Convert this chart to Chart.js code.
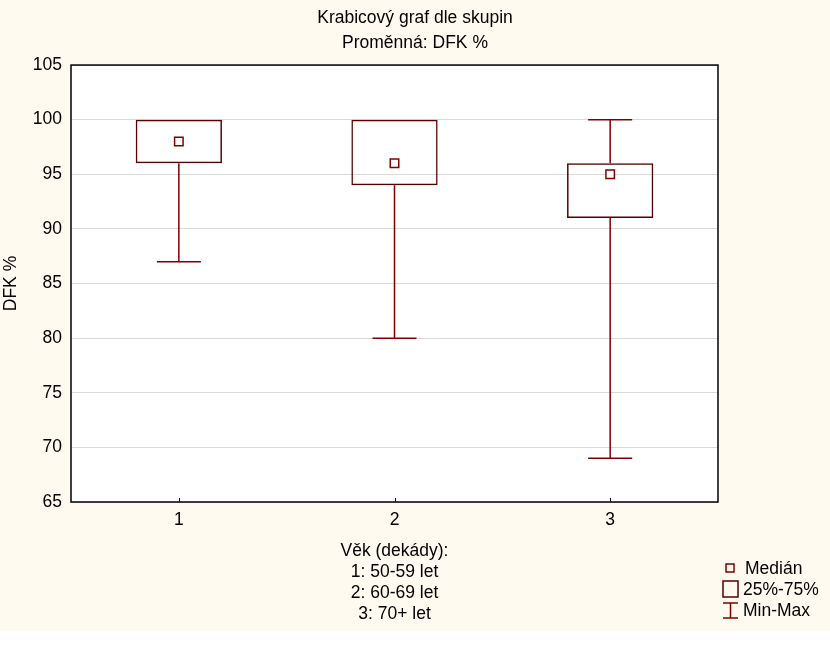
<!DOCTYPE html>
<html>
<head>
<meta charset="utf-8">
<script src="https://cdn.jsdelivr.net/npm/chart.js@4"></script>
<style>
  body { margin: 0; background: #ffffff; }
  #wrap { width: 830px; height: 631px; background: #fffaf0; }
</style>
</head>
<body>
<div id="wrap"><canvas id="boxChart" width="830" height="631"></canvas></div>
<script>
const groups = ['1', '2', '3'];
const q1 = [96, 94, 91];
const q3 = [100, 100, 96];
const medians = [98, 96, 95];
const mins = [87, 80, 69];
const maxs = [100, 100, 100];

const chart_title = ['Krabicový graf dle skupin', 'Proměnná: DFK %'];
const x_title = ['Věk (dekády):', '1: 50-59 let', '2: 60-69 let', '3: 70+ let'];
const y_title = 'DFK %';
const legend_labels = ['Medián', '25%-75%', 'Min-Max'];

const BOX_COLOR = '#560000';
const WHISKER_COLOR = '#800000';
const FONT = 'Liberation Sans, Arial, sans-serif';
const FS = 17.5;

Chart.defaults.font.family = FONT;
Chart.defaults.color = '#000000';

// white plot area on the cream page
const plotBackground = {
  id: 'plotBackground',
  beforeDraw(chart) {
    const { ctx, chartArea: a } = chart;
    ctx.save();
    ctx.fillStyle = '#ffffff';
    ctx.fillRect(a.left, a.top, a.right - a.left, a.bottom - a.top);
    ctx.restore();
  }
};

// whiskers + caps, drawn under the boxes
const whiskers = {
  id: 'whiskers',
  beforeDatasetsDraw(chart) {
    const { ctx } = chart;
    const xs = chart.scales.x, ys = chart.scales.y;
    const capHalf = 22;
    ctx.save();
    ctx.strokeStyle = WHISKER_COLOR;
    ctx.lineWidth = 1.5;
    for (var i = 0; i < groups.length; i++) {
      const x = xs.getPixelForValue(i);
      ctx.beginPath();
      if (mins[i] < q1[i]) {
        ctx.moveTo(x, ys.getPixelForValue(mins[i]));
        ctx.lineTo(x, ys.getPixelForValue(q1[i]));
        ctx.moveTo(x - capHalf, ys.getPixelForValue(mins[i]));
        ctx.lineTo(x + capHalf, ys.getPixelForValue(mins[i]));
      }
      if (maxs[i] > q3[i]) {
        ctx.moveTo(x, ys.getPixelForValue(q3[i]));
        ctx.lineTo(x, ys.getPixelForValue(maxs[i]));
        ctx.moveTo(x - capHalf, ys.getPixelForValue(maxs[i]));
        ctx.lineTo(x + capHalf, ys.getPixelForValue(maxs[i]));
      }
      ctx.stroke();
    }
    ctx.restore();
  }
};

// frame around plot, inner x ticks, and the legend at bottom right
const frameAndLegend = {
  id: 'frameAndLegend',
  afterDraw(chart) {
    const { ctx, chartArea: a } = chart;
    const xs = chart.scales.x;
    ctx.save();
    ctx.strokeStyle = '#000000';
    ctx.lineWidth = 1.5;
    ctx.strokeRect(a.left, a.top, a.right - a.left, a.bottom - a.top);
    ctx.lineWidth = 1;
    ctx.beginPath();
    for (var i = 0; i < groups.length; i++) {
      const x = Math.round(xs.getPixelForValue(i)) + 0.5;
      ctx.moveTo(x, a.bottom);
      ctx.lineTo(x, a.bottom - 4);
    }
    ctx.stroke();

    // legend
    ctx.lineWidth = 1.5;
    ctx.strokeStyle = WHISKER_COLOR;
    ctx.strokeRect(726, 564, 8, 8);
    ctx.strokeStyle = BOX_COLOR;
    ctx.strokeRect(723, 581, 15, 16);
    ctx.strokeStyle = WHISKER_COLOR;
    ctx.beginPath();
    ctx.moveTo(730.5, 603); ctx.lineTo(730.5, 618);
    ctx.moveTo(723, 603); ctx.lineTo(738, 603);
    ctx.moveTo(723, 618); ctx.lineTo(738, 618);
    ctx.stroke();
    ctx.fillStyle = '#000000';
    ctx.font = FS + 'px ' + FONT;
    ctx.textBaseline = 'middle';
    ctx.textAlign = 'left';
    ctx.fillText(legend_labels[0], 745, 569);
    ctx.fillText(legend_labels[1], 743, 590);
    ctx.fillText(legend_labels[2], 743, 611);
    ctx.restore();
  }
};

const box_data = {
  labels: groups,
  datasets: [
    {
      type: 'line',
      label: legend_labels[0],
      data: medians,
      showLine: false,
      pointStyle: 'rect',
      pointRadius: 6,
      pointHoverRadius: 6,
      pointBackgroundColor: '#ffffff',
      pointBorderColor: WHISKER_COLOR,
      pointBorderWidth: 1.5,
      order: 0
    },
    {
      type: 'bar',
      label: legend_labels[1],
      data: groups.map((g, i) => [q1[i], q3[i]]),
      backgroundColor: 'rgba(255,255,255,0)',
      borderColor: BOX_COLOR,
      borderWidth: 1.5,
      borderSkipped: false,
      barPercentage: 0.4,
      categoryPercentage: 1,
      order: 1
    }
  ]
};

const box_config = {
  type: 'bar',
  data: box_data,
  options: {
    responsive: false,
    animation: false,
    layout: { padding: 0 },
    plugins: {
      legend: { display: false },
      tooltip: { enabled: false },
      title: {
        display: true,
        text: chart_title,
        color: '#000000',
        font: { size: FS, weight: 'normal', lineHeight: 1.43 },
        padding: { top: 6, bottom: 9 }
      }
    },
    scales: {
      x: {
        type: 'category',
        offset: true,
        grid: { display: false, drawTicks: false },
        border: { display: false },
        ticks: { font: { size: FS }, color: '#000000', padding: 8 },
        title: {
          display: true,
          text: x_title,
          color: '#000000',
          font: { size: FS, lineHeight: 1.2 },
          padding: { top: 0, bottom: 6 }
        },
        afterFit: (scale) => { scale.height = 129; }
      },
      y: {
        min: 65,
        max: 105,
        ticks: { stepSize: 5, font: { size: FS }, color: '#000000', padding: 9 },
        grid: { color: '#d9d9d9', drawTicks: false, lineWidth: 1 },
        border: { display: false },
        title: {
          display: true,
          text: y_title,
          color: '#000000',
          font: { size: FS },
          padding: { top: 1, bottom: 0 }
        },
        afterFit: (scale) => { scale.width = 71; }
      },
      // empty right-hand axis that reserves room for the legend
      yRight: {
        position: 'right',
        min: 65,
        max: 105,
        grid: { display: false, drawTicks: false },
        border: { display: false },
        ticks: { display: false },
        afterFit: (scale) => { scale.width = 112; }
      }
    }
  },
  plugins: [plotBackground, whiskers, frameAndLegend]
};

const boxChart = new Chart(document.getElementById('boxChart'), box_config);
</script>
</body>
</html>
